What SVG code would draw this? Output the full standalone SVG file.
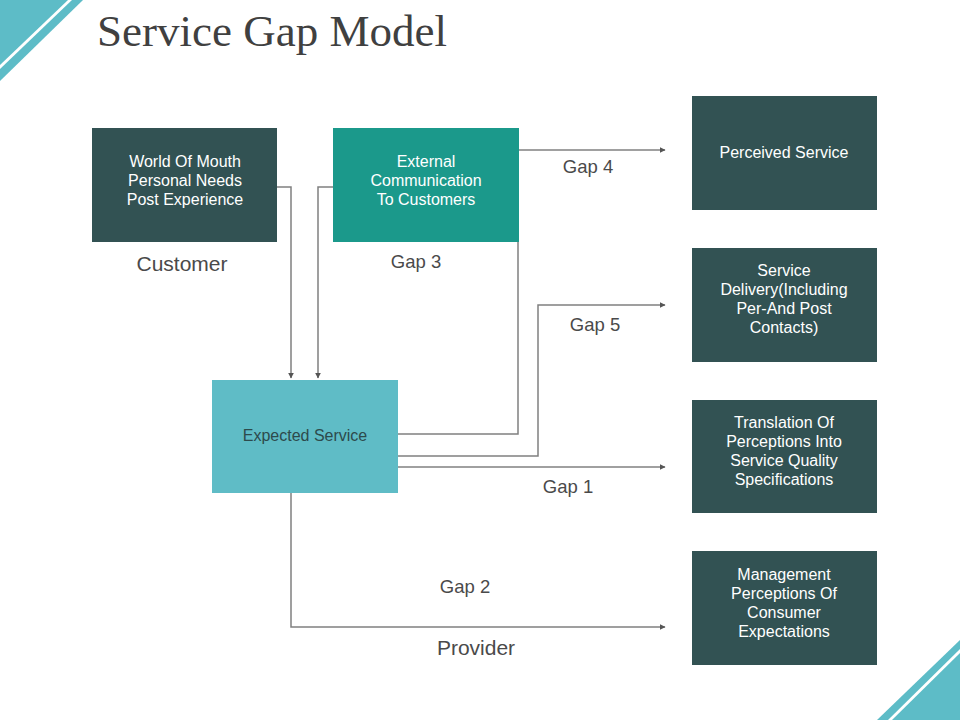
<svg xmlns="http://www.w3.org/2000/svg" width="960" height="720" viewBox="0 0 960 720">
<style>
.dark{fill:#325253}
.txt{font-family:"Liberation Sans",Arial,sans-serif;font-size:16px;fill:#ffffff;text-anchor:middle}
.lbl{font-family:"Liberation Sans",Arial,sans-serif;font-size:18.5px;fill:#4a4a4a;text-anchor:middle}
.lbl2{font-family:"Liberation Sans",Arial,sans-serif;font-size:21px;fill:#4a4a4a;text-anchor:middle}
.con{fill:none;stroke:#808080;stroke-width:1.5}
.deco{fill:#5dbcc7}
</style>
<defs>
<marker id="arr" viewBox="0 0 10 10" refX="9" refY="5" markerWidth="6" markerHeight="6" markerUnits="userSpaceOnUse" orient="auto">
<path d="M0,0 L10,5 L0,10 Z" fill="#555555"/>
</marker>
</defs>
<rect width="960" height="720" fill="#ffffff"/>
<g id="decoration">
<polygon class="deco" points="0,0 68,0 0,65"/>
<polygon class="deco" points="72,0 83,0 0,81 0,69"/>
<polygon class="deco" points="960,640 960,649 888,720 877,720"/>
<polygon class="deco" points="960,653 960,720 892,720"/>
</g>
<text x="97" y="46" font-family="'Liberation Serif','Times New Roman',serif" font-size="45" fill="#404040">Service Gap Model</text>
<g id="connectors">
<polyline class="con" points="277,187 291,187 291,378" marker-end="url(#arr)"/>
<polyline class="con" points="333,187 318,187 318,378" marker-end="url(#arr)"/>
<polyline class="con" points="519,150 665,150" marker-end="url(#arr)"/>
<polyline class="con" points="518,242 518,434 398,434"/>
<polyline class="con" points="398,456 538,456 538,305 665,305" marker-end="url(#arr)"/>
<polyline class="con" points="398,467 665,467" marker-end="url(#arr)"/>
<polyline class="con" points="291,493 291,627 665,627" marker-end="url(#arr)"/>
</g>
<g id="world">
<rect class="dark" x="92" y="128" width="185" height="114"/>
<text class="txt" x="185" y="167">World Of Mouth</text>
<text class="txt" x="185" y="186">Personal Needs</text>
<text class="txt" x="185" y="205">Post Experience</text>
</g>
<g id="external">
<rect x="333" y="128" width="186" height="114" fill="#1b998b"/>
<text class="txt" x="426" y="167">External</text>
<text class="txt" x="426" y="186">Communication</text>
<text class="txt" x="426" y="205">To Customers</text>
</g>
<g id="expected">
<rect x="212" y="380" width="186" height="113" fill="#5fbcc6"/>
<text class="txt" x="305" y="441" style="fill:#2d4a4c">Expected Service</text>
</g>
<g id="perceived">
<rect class="dark" x="692" y="96" width="185" height="114"/>
<text class="txt" x="784" y="158">Perceived Service</text>
</g>
<g id="delivery">
<rect class="dark" x="692" y="248" width="185" height="114"/>
<text class="txt" x="784" y="276">Service</text>
<text class="txt" x="784" y="295">Delivery(Including</text>
<text class="txt" x="784" y="314">Per-And Post</text>
<text class="txt" x="784" y="333">Contacts)</text>
</g>
<g id="translation">
<rect class="dark" x="692" y="400" width="185" height="113"/>
<text class="txt" x="784" y="428">Translation Of</text>
<text class="txt" x="784" y="447">Perceptions Into</text>
<text class="txt" x="784" y="466">Service Quality</text>
<text class="txt" x="784" y="485">Specifications</text>
</g>
<g id="management">
<rect class="dark" x="692" y="551" width="185" height="114"/>
<text class="txt" x="784" y="580">Management</text>
<text class="txt" x="784" y="599">Perceptions Of</text>
<text class="txt" x="784" y="618">Consumer</text>
<text class="txt" x="784" y="637">Expectations</text>
</g>
<g id="labels">
<text class="lbl2" x="182" y="271">Customer</text>
<text class="lbl" x="416" y="268">Gap 3</text>
<text class="lbl" x="588" y="173">Gap 4</text>
<text class="lbl" x="595" y="331">Gap 5</text>
<text class="lbl" x="568" y="493">Gap 1</text>
<text class="lbl" x="465" y="593">Gap 2</text>
<text class="lbl2" x="476" y="655">Provider</text>
</g>
</svg>
